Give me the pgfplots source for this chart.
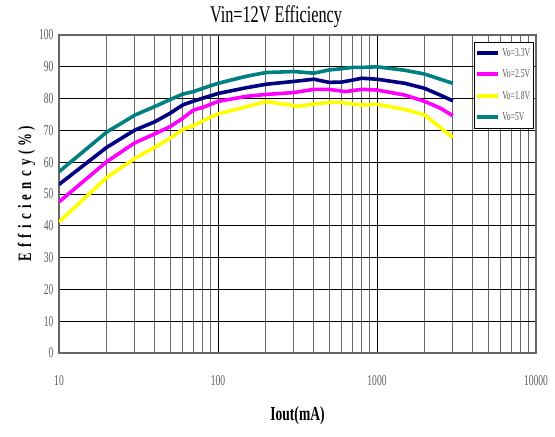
\documentclass[border=0pt]{standalone}
\usepackage{fontspec}
\setmainfont{Liberation Serif}
\newfontfamily\cond[FakeStretch=0.64]{Liberation Serif}
\newfontfamily\titlef[FakeStretch=0.68]{Liberation Serif}
\usepackage{pgfplots}
\pgfplotsset{compat=1.18}
\definecolor{navyc}{RGB}{0,0,128}
\definecolor{magc}{RGB}{255,0,255}
\definecolor{yelc}{RGB}{255,255,0}
\definecolor{tealc}{RGB}{0,128,128}
\begin{document}
\begin{tikzpicture}
\useasboundingbox (-59bp,-84bp) rectangle (496bp,353bp);
\begin{axis}[
  at={(0,0)}, anchor=south west,
  scale only axis, width=477bp, height=318bp,
  xmode=log, xmin=10, xmax=10000, ymin=0, ymax=100,
  log basis x=10,
  xtick={10,100,1000,10000},
  xticklabels={10,100,1000,10000},
  minor xtick={20,30,40,50,60,70,80,90,200,300,400,500,600,700,800,900,2000,3000,4000,5000,6000,7000,8000,9000},
  ytick={0,10,...,100},
  major tick length=0pt, minor tick length=0pt,
  xmajorgrids, xminorgrids, ymajorgrids,
  major grid style={black, line width=0.8bp},
  minor grid style={black!60, line width=1.2bp},
  axis line style={black!60, line width=1.5bp},
  /pgf/number format/assume math mode=true,
  ticklabel style={font=\fontsize{15}{15}\selectfont\cond, text=black!65},
  xticklabel style={yshift=-19bp},
  yticklabel style={xshift=-2bp},
  title={\fontsize{24}{24}\selectfont\titlef Vin=12V Efficiency},
  title style={at={(0.455,1)}, yshift=-2bp},
  xlabel={\fontsize{20}{20}\selectfont\titlef\bfseries Iout(mA)},
  xlabel style={yshift=-14bp},
  ylabel={\fontsize{19}{19}\selectfont\titlef\bfseries E\;f\;f\;i\;c\;i\;e\;n\;c\;y\;(\,\%\,)},
  ylabel style={yshift=-3bp},
  legend style={at={(0.996,0.978)}, anchor=north east, draw=black, line width=0.8bp,
    fill=white, font=\fontsize{12}{12}\selectfont\cond, text=black!65,
    row sep=8bp, inner xsep=1.5bp, inner ysep=4bp},
  legend cell align=left,
  legend image code/.code={\draw[#1, line width=4bp] (0bp,0bp) -- (21bp,0bp);},
  every axis plot/.append style={line width=3.6bp, line join=round},
]
\addplot[navyc] coordinates {(10,53) (20,64.7) (30,70.1) (40,72.7) (50,75.4) (60,78) (70,79.2) (80,80.1) (100,81.6) (150,83.4) (200,84.5) (300,85.4) (400,86.1) (500,85.1) (600,85.2) (700,85.8) (800,86.4) (1000,86.1) (1500,84.8) (2000,83.2) (2500,81.1) (3000,79.3)};
\addlegendentry{Vo=3.3V}
\addplot[magc] coordinates {(10,47.5) (20,60.2) (30,66.1) (40,68.9) (50,71.2) (60,73.8) (70,76.4) (80,77.2) (100,79.1) (150,80.7) (200,81.3) (300,81.9) (400,82.9) (500,82.9) (630,82.2) (800,82.9) (1000,82.7) (1500,81.1) (2000,79.1) (2500,77) (3000,74.6)};
\addlegendentry{Vo=2.5V}
\addplot[yelc] coordinates {(10,41.2) (20,55.2) (30,61.2) (40,64.7) (50,67.5) (60,70.3) (70,71.4) (80,73) (100,75.2) (150,77.4) (200,79.1) (320,77.6) (400,78.3) (500,78.8) (600,78.8) (700,78.3) (800,78) (1000,78.2) (1500,76.6) (2000,74.8) (2500,70.9) (3000,67.8)};
\addlegendentry{Vo=1.8V}
\addplot[tealc] coordinates {(10,57) (20,69.5) (30,74.8) (40,77.5) (50,79.7) (60,81.4) (70,82.2) (80,83.2) (100,84.8) (150,87) (200,88.2) (300,88.5) (400,88) (500,89) (600,89.4) (700,89.8) (800,89.8) (1000,90) (1500,88.9) (2000,87.7) (2500,86.1) (3000,84.8)};
\addlegendentry{Vo=5V}
\end{axis}
\end{tikzpicture}
\end{document}
